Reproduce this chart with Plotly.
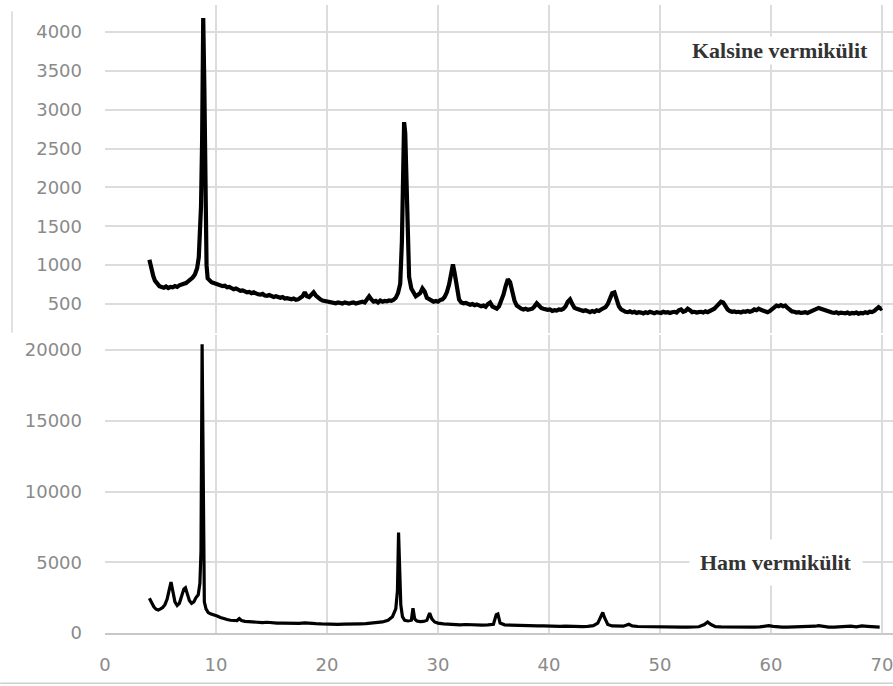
import plotly.graph_objects as go
from plotly.subplots import make_subplots

# Kalsine vermikülit (top panel)
kal_x = [4.0, 4.1, 4.2, 4.35, 4.5, 4.7, 4.9, 5.1, 5.3, 5.5, 5.7, 5.9, 6.1, 6.3, 6.5, 6.7, 6.9, 7.1, 7.3, 7.5,
         7.7, 7.9, 8.1, 8.3, 8.45, 8.55, 8.65, 8.75, 8.85, 8.95, 9.05, 9.15, 9.25, 9.4, 9.6, 9.8, 10.0, 10.2, 10.4, 10.6,
         10.8, 11.0, 11.2, 11.4, 11.6, 11.8, 12.0, 12.2, 12.4, 12.6, 12.8, 13.0, 13.2, 13.4, 13.6, 13.8, 14.0, 14.2, 14.4, 14.6,
         14.8, 15.0, 15.2, 15.4, 15.6, 15.8, 16.0, 16.2, 16.4, 16.6, 16.8, 17.0, 17.2, 17.4, 17.6, 17.8, 18.0, 18.2, 18.4, 18.6,
         18.8, 19.0, 19.2, 19.4, 19.6, 19.8, 20.0, 20.2, 20.4, 20.6, 20.8, 21.0, 21.2, 21.4, 21.6, 21.8, 22.0, 22.2, 22.4, 22.6,
         22.8, 23.0, 23.2, 23.4, 23.6, 23.8, 24.0, 24.2, 24.4, 24.6, 24.8, 25.0, 25.2, 25.4, 25.6, 25.8, 26.0, 26.2, 26.4, 26.6,
         26.75, 26.85, 26.95, 27.05, 27.15, 27.25, 27.4, 27.6, 27.8, 28.0, 28.2, 28.4, 28.6, 28.8, 29.0, 29.2, 29.4, 29.6, 29.8, 30.0,
         30.2, 30.4, 30.6, 30.8, 31.0, 31.2, 31.35, 31.5, 31.7, 31.9, 32.1, 32.3, 32.5, 32.7, 32.9, 33.1, 33.3, 33.5, 33.7, 33.9,
         34.1, 34.3, 34.5, 34.7, 34.9, 35.1, 35.3, 35.5, 35.7, 35.9, 36.1, 36.3, 36.5, 36.7, 36.9, 37.1, 37.3, 37.5, 37.7, 37.9,
         38.1, 38.3, 38.5, 38.7, 38.9, 39.1, 39.3, 39.5, 39.7, 39.9, 40.1, 40.3, 40.5, 40.7, 40.9, 41.1, 41.3, 41.5, 41.7, 41.9,
         42.1, 42.3, 42.5, 42.7, 42.9, 43.1, 43.3, 43.5, 43.7, 43.9, 44.1, 44.3, 44.5, 44.7, 44.9, 45.1, 45.3, 45.5, 45.7, 45.9,
         46.1, 46.3, 46.5, 46.7, 46.9, 47.1, 47.3, 47.5, 47.7, 47.9, 48.1, 48.3, 48.5, 48.7, 48.9, 49.1, 49.3, 49.5, 49.7, 49.9,
         50.1, 50.3, 50.5, 50.7, 50.9, 51.1, 51.3, 51.5, 51.7, 51.9, 52.1, 52.3, 52.5, 52.7, 52.9, 53.1, 53.3, 53.5, 53.7, 53.9,
         54.1, 54.3, 54.5, 54.7, 54.9, 55.1, 55.3, 55.5, 55.7, 55.9, 56.1, 56.3, 56.5, 56.7, 56.9, 57.1, 57.3, 57.5, 57.7, 57.9,
         58.1, 58.3, 58.5, 58.7, 58.9, 59.1, 59.3, 59.5, 59.7, 59.9, 60.1, 60.3, 60.5, 60.7, 60.9, 61.1, 61.3, 61.5, 61.7, 61.9,
         62.1, 62.3, 62.5, 62.7, 62.9, 63.1, 63.3, 63.5, 63.7, 63.9, 64.1, 64.3, 64.5, 64.7, 64.9, 65.1, 65.3, 65.5, 65.7, 65.9,
         66.1, 66.3, 66.5, 66.7, 66.9, 67.1, 67.3, 67.5, 67.7, 67.9, 68.1, 68.3, 68.5, 68.7, 68.9, 69.1, 69.3, 69.5, 69.7, 69.9,
         70.0]
kal_y = [1070, 1000, 930, 860, 800, 760, 730, 720, 710, 725, 705, 720, 715, 730, 720, 740, 745, 760, 770, 790,
         810, 840, 880, 960, 1100, 1450, 1750, 2600, 4180, 3300, 1900, 1000, 830, 800, 780, 770, 760, 750, 745, 730,
         735, 715, 720, 700, 690, 700, 680, 670, 675, 660, 650, 655, 640, 650, 630, 625, 620, 630, 610, 605,
         615, 600, 590, 600, 585, 580, 590, 570, 575, 565, 560, 570, 555, 560, 575, 600, 650, 600, 590, 620,
         650, 610, 575, 560, 545, 540, 530, 535, 520, 525, 510, 520, 515, 505, 520, 510, 505, 515, 520, 505,
         510, 515, 530, 520, 560, 600, 560, 530, 540, 520, 545, 530, 540, 535, 545, 540, 555, 580, 640, 760,
         1300, 2000, 2840, 2700, 2000, 1250, 850, 700, 650, 600, 620, 640, 700, 660, 580, 560, 545, 530, 540, 530,
         550, 560, 590, 650, 750, 950, 1010, 900, 680, 560, 520, 510, 515, 500, 490, 500, 485, 495, 480, 470,
         480, 465, 500, 520, 470, 450, 440, 470, 530, 620, 730, 820, 780, 650, 540, 480, 455, 440, 430, 440,
         425, 430, 440, 470, 510, 480, 450, 440, 430, 425, 430, 410, 420, 415, 430, 425, 440, 470, 530, 560,
         500, 450, 440, 430, 420, 410, 420, 400, 395, 410, 400, 420, 410, 430, 440, 460, 500, 580, 640, 650,
         560, 470, 430, 410, 400, 395, 405, 390, 400, 385, 395, 390, 380, 395, 385, 400, 390, 380, 395, 390,
         385, 400, 390, 395, 385, 395, 400, 390, 420, 430, 400, 410, 440, 420, 395, 400, 390, 395, 400, 390,
         405, 395, 410, 420, 440, 470, 500, 530, 520, 470, 430, 410, 400, 405, 395, 400, 390, 405, 400, 410,
         400, 410, 430, 420, 440, 425, 410, 400, 395, 410, 430, 460, 480, 470, 485, 470, 480, 450, 420, 405,
         400, 390, 395, 385, 390, 395, 385, 400, 410, 430, 440, 450, 440, 430, 410, 400, 395, 390, 385, 395,
         380, 390, 385, 380, 390, 375, 385, 380, 390, 375, 385, 380, 395, 385, 400, 395, 410, 430, 460, 440,
         450]

# Ham vermikülit (bottom panel)
ham_x = [4.0, 4.2, 4.4, 4.6, 4.8, 5.0, 5.2, 5.4, 5.6, 5.8, 5.95, 6.1, 6.3, 6.5, 6.7, 6.9, 7.1, 7.25, 7.4, 7.6,
         7.8, 8.0, 8.2, 8.4, 8.55, 8.65, 8.75, 8.85, 8.95, 9.1, 9.3, 9.5, 9.8, 10.1, 10.4, 10.7, 11.0, 11.3, 11.6, 11.9,
         12.1, 12.3, 12.6, 13.0, 13.4, 13.8, 14.2, 14.6, 15.0, 15.5, 16.0, 16.5, 17.0, 17.5, 18.0, 18.5, 19.0, 19.5, 20.0, 20.5,
         21.0, 21.5, 22.0, 22.5, 23.0, 23.5, 24.0, 24.5, 25.0, 25.5, 25.9, 26.2, 26.35, 26.45, 26.55, 26.65, 26.8, 27.0, 27.3, 27.6,
         27.75, 27.9, 28.1, 28.4, 28.7, 29.0, 29.25, 29.45, 29.7, 30.0, 30.5, 31.0, 31.5, 32.0, 32.5, 33.0, 33.5, 34.0, 34.5, 35.0,
         35.25, 35.4, 35.6, 36.0, 36.5, 37.0, 37.5, 38.0, 38.5, 39.0, 39.5, 40.0, 40.5, 41.0, 41.5, 42.0, 42.5, 43.0, 43.5, 44.0,
         44.4, 44.7, 44.85, 45.0, 45.3, 45.7, 46.2, 46.7, 47.2, 47.5, 48.0, 48.5, 49.0, 49.5, 50.0, 50.5, 51.0, 51.5, 52.0, 52.5,
         53.0, 53.5, 54.0, 54.3, 54.6, 55.0, 55.5, 56.0, 56.5, 57.0, 57.5, 58.0, 58.5, 59.0, 59.5, 59.8, 60.2, 60.6, 61.0, 61.5,
         62.0, 62.5, 63.0, 63.5, 64.0, 64.3, 64.7, 65.2, 65.7, 66.2, 66.7, 67.2, 67.7, 68.2, 68.7, 69.2, 69.8]
ham_y = [2450, 2150, 1850, 1680, 1620, 1700, 1800, 2000, 2400, 3100, 3600, 3000, 2200, 1950, 2100, 2600, 3100, 3200, 2800, 2300,
         2100, 2200, 2500, 2700, 3500, 5800, 20400, 12000, 2200, 1700, 1450, 1350, 1300, 1200, 1100, 1000, 950, 900, 870, 880,
         1020, 880, 820, 790, 760, 770, 740, 760, 720, 700, 700, 690, 690, 680, 720, 670, 660, 640, 620, 640,
         610, 630, 620, 640, 650, 660, 690, 720, 780, 900, 1150, 1700, 3000, 7100, 5000, 2000, 1150, 900, 850, 900,
         1750, 1000, 850, 800, 820, 900, 1400, 1000, 780, 700, 650, 620, 600, 580, 600, 570, 580, 560, 580, 620,
         1300, 1350, 700, 580, 560, 540, 550, 520, 530, 500, 510, 480, 490, 470, 480, 460, 470, 450, 470, 520,
         700, 1200, 1450, 1100, 600, 500, 470, 480, 620, 500, 460, 450, 430, 440, 420, 430, 420, 430, 410, 420,
         420, 440, 600, 780, 600, 450, 430, 420, 410, 420, 410, 420, 410, 430, 480, 520, 470, 430, 420, 410,
         420, 410, 420, 430, 480, 520, 450, 420, 410, 420, 450, 480, 430, 500, 470, 430, 420]

top_ticks = [500, 1000, 1500, 2000, 2500, 3000, 3500, 4000]
top_labels = ["500", "1000", "1500", "2000", "2500", "3000", "3500", "4000"]
bottom_ticks = [0, 5000, 10000, 15000, 20000]
bottom_labels = ["0", "5000", "10000", "15000", "20000"]
x_ticks = [0, 10, 20, 30, 40, 50, 60, 70]
x_labels = ["0", "10", "20", "30", "40", "50", "60", "70"]

fig = make_subplots(rows=2, cols=1, shared_xaxes=False, vertical_spacing=0.0)

fig.add_trace(go.Scatter(x=kal_x, y=kal_y, mode="lines",
                         line=dict(color="black", width=4.2), showlegend=False), row=1, col=1)
fig.add_trace(go.Scatter(x=ham_x, y=ham_y, mode="lines",
                         line=dict(color="black", width=3.2), showlegend=False), row=2, col=1)

tickfont = dict(family="DejaVu Sans", size=18, color="#8a8a8a")
grid = "#dcdcdc"

fig.update_layout(
    width=893, height=686,
    margin=dict(l=105, r=0, t=5, b=53),
    paper_bgcolor="white", plot_bgcolor="white",
    xaxis=dict(domain=[0, 1], range=[0, 71], tickvals=x_ticks, showticklabels=False,
               showgrid=True, gridcolor=grid, gridwidth=1.5, zeroline=False, showline=False, anchor="y"),
    yaxis=dict(domain=[0.4777, 1], range=[127, 4347], tickvals=top_ticks, ticktext=top_labels, tickfont=tickfont,
               showgrid=True, gridcolor=grid, gridwidth=1.5, zeroline=False, showline=False,
               ticklabelstandoff=22, anchor="x"),
    xaxis2=dict(domain=[0, 1], range=[0, 71], tickvals=x_ticks, ticktext=x_labels, tickfont=tickfont,
                showgrid=True, gridcolor=grid, gridwidth=1.5, zeroline=False,
                showline=True, linecolor="#c8c8c8", linewidth=1.5, ticklabelstandoff=15,
                ticklabeloverflow="allow", anchor="y2"),
    yaxis2=dict(domain=[0, 0.4745], range=[0, 21060], tickvals=bottom_ticks, ticktext=bottom_labels, tickfont=tickfont,
                showgrid=True, gridcolor=grid, gridwidth=1.5, zeroline=False, showline=False,
                ticklabelstandoff=22, anchor="x2"),
)

fig.add_annotation(x=60.8, y=3768, xref="x", yref="y", text="<b>Kalsine vermikülit</b>", showarrow=False,
                   font=dict(family="Liberation Serif", size=22, color="#333333"), bgcolor="white")
fig.add_annotation(x=60.5, y=5000, xref="x2", yref="y2", text="<b>Ham vermikülit</b>", showarrow=False,
                   font=dict(family="Liberation Serif", size=22, color="#333333"), bgcolor="white",
                   borderpad=10)

# image border remnants
fig.add_shape(type="line", xref="paper", yref="paper", x0=-0.118, x1=-0.118, y0=0.478, y1=0.99,
              line=dict(color="#d8d8d8", width=1.5))
fig.add_shape(type="line", xref="paper", yref="paper", x0=-0.133, x1=1.0, y0=-0.08, y1=-0.08,
              line=dict(color="#d0d0d0", width=1.5))

fig.write_html("out.html")
